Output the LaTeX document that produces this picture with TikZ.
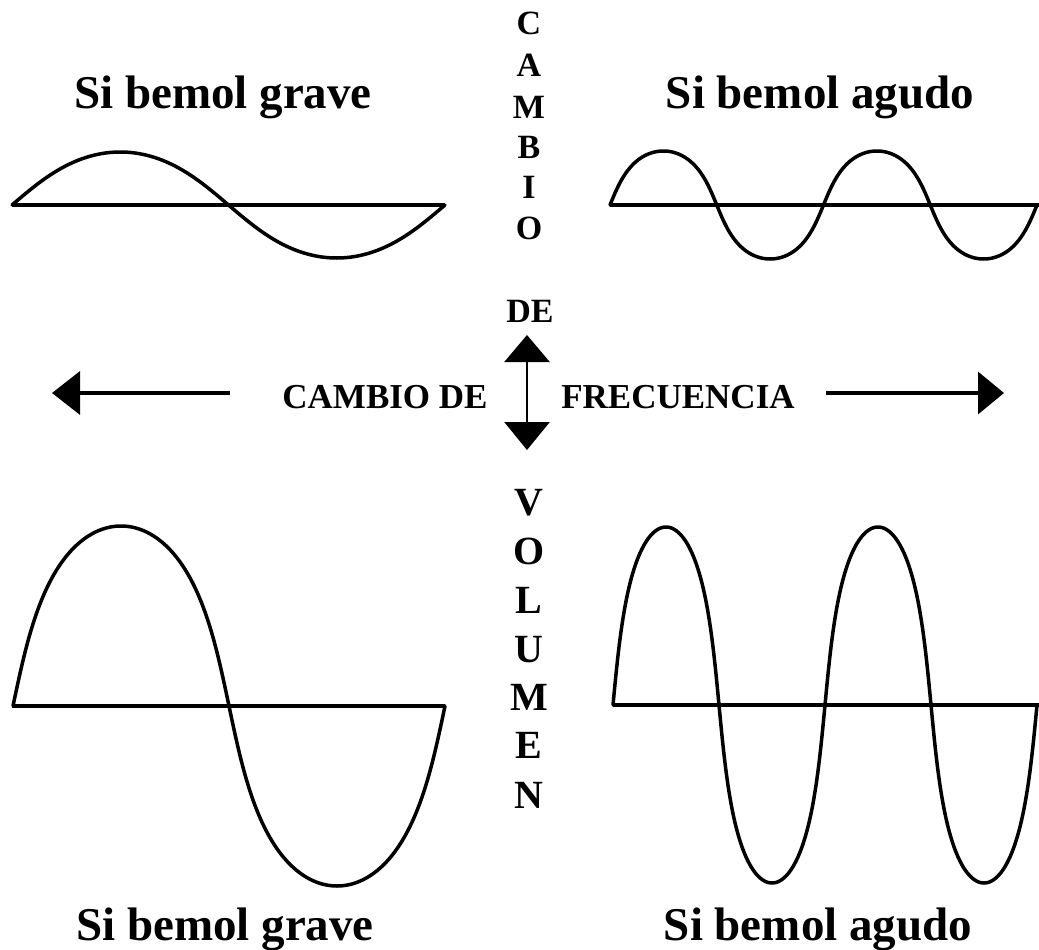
\documentclass[tikz,border=0pt]{standalone}
\usepackage{fontspec}
\setmainfont{Liberation Serif}
\usetikzlibrary{arrows.meta}
\begin{document}
\begin{tikzpicture}[x=1pt,y=-1pt,
  wave/.style={line width=3.5pt, line join=round, line cap=round},
  axisline/.style={line width=3.2pt},
  title/.style={anchor=base, inner sep=0pt, font=\fontsize{47}{50}\selectfont\bfseries},
  vletter/.style={anchor=base, inner sep=0pt, font=\fontsize{34}{36}\selectfont\bfseries},
  bletter/.style={anchor=base, inner sep=0pt, font=\fontsize{40}{42}\selectfont\bfseries},
  mid/.style={anchor=base, inner sep=0pt, font=\fontsize{35}{37}\selectfont\bfseries},
  arr/.style={line width=3.5pt}
]
\useasboundingbox (0,0) rectangle (1039,950);
\fill[white] (0,0) rectangle (1039,950);

% titles
\node[title] (t1) at (223,108) {Si bemol grave};
\node[title] (t2) at (820,108) {Si bemol agudo};
\node[title] (t3) at (225,940) {Si bemol grave};
\node[title] (t4) at (818,940) {Si bemol agudo};

% vertical CAMBIO
\node[vletter] (c1) at (529,35) {C};
\node[vletter] (c2) at (529,77) {A};
\node[vletter] (c3) at (529,118) {M};
\node[vletter] (c4) at (529,158) {B};
\node[vletter] (c5) at (529,198) {I};
\node[vletter] (c6) at (529,239) {O};
\node[vletter] (de) at (530,322) {DE};

% vertical VOLUMEN
\node[bletter] (v1) at (529,515) {V};
\node[bletter] (v2) at (529,564) {O};
\node[bletter] (v3) at (529,613) {L};
\node[bletter] (v4) at (529,662) {U};
\node[bletter] (v5) at (529,710) {M};
\node[bletter] (v6) at (529,758) {E};
\node[bletter] (v7) at (529,808) {N};

% middle texts
\node[mid] (cd) at (385,408) {CAMBIO DE};
\node[mid] (fr) at (678,408) {FRECUENCIA};

% arrows
\coordinate (la1) at (230,393);
\coordinate (la2) at (52,393);
\coordinate (ra1) at (826,393);
\coordinate (ra2) at (1004,393);
\coordinate (vu) at (527,335);
\coordinate (vd) at (527,450);
\draw[arr,-{Triangle[length=28pt,width=43pt]}] (la1) -- (la2);
\draw[arr,-{Triangle[length=26pt,width=42pt]}] (ra1) -- (ra2);
\draw[line width=2.8pt,{Triangle[length=27pt,width=45pt]}-{Triangle[length=28pt,width=45pt]}] (vu) -- (vd);

% top-left wave
\draw[axisline] (12,205) -- (445,205);
\draw[wave] plot[domain=0:360, samples=181]
  ({12+216.5*(\x/180-0.1*sin(2*\x)/(2*pi))},{205-53*sin(\x)});

% top-right wave
\draw[axisline] (610,205) -- (1039,205);
\draw[wave] plot[domain=0:720, samples=241]
  ({610+106.75*(\x/180-0.35*sin(2*\x)/(2*pi))},{205-54*sin(\x)});

% bottom-left wave
\draw[axisline] (12,706) -- (445,706);
\draw[wave] plot[domain=0:360, samples=241]
  ({13+216*(\x/180-0.45*sin(2*\x)/(2*pi))},{706-180*sin(\x)});

% bottom-right wave
\draw[axisline] (613,705) -- (1039,705);
\draw[wave] plot[domain=0:720, samples=321]
  ({613+106*(\x/180-0.5*sin(2*\x)/(2*pi))},{705-178*sin(\x)});
\end{tikzpicture}
\end{document}
